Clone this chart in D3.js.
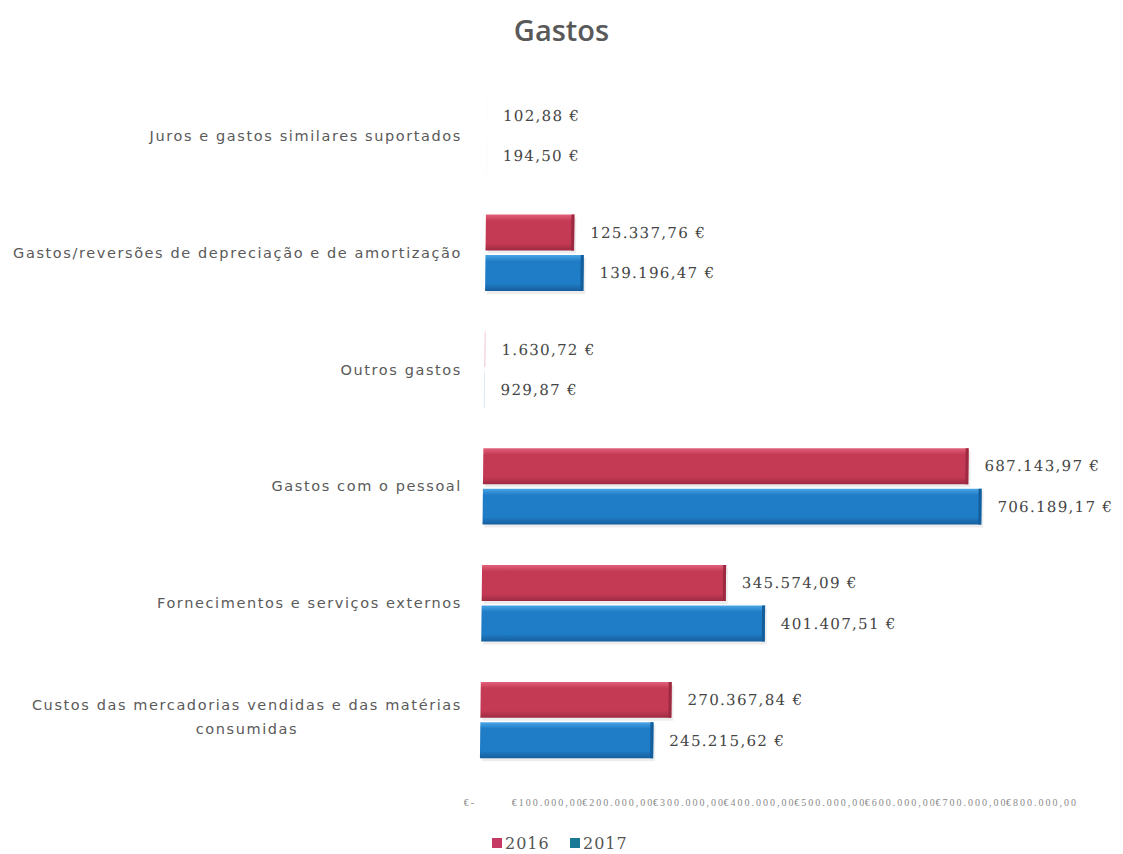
<!DOCTYPE html>
<html>
<head>
<meta charset="utf-8">
<script src="https://cdn.jsdelivr.net/npm/d3@7"></script>
<style>
  body { margin: 0; background: #fff; }
  svg { display: block; }
</style>
</head>
<body>
<svg width="1123" height="854"></svg>
<script>
const categories = [
  'Juros e gastos similares suportados',
  'Gastos/reversões de depreciação e de amortização',
  'Outros gastos',
  'Gastos com o pessoal',
  'Fornecimentos e serviços externos',
  'Custos das mercadorias vendidas e das matérias consumidas'
]
const series = ['2016', '2017']
const values2016 = [102.88, 125337.76, 1630.72, 687143.97, 345574.09, 270367.84]
const values2017 = [194.5, 139196.47, 929.87, 706189.17, 401407.51, 245215.62]
const ticks = [0, 100000, 200000, 300000, 400000, 500000, 600000, 700000, 800000]

const svg = d3.select('svg'),
  width = +svg.attr('width'),
  height = +svg.attr('height')

const colors = { '2016': ['#e2607a', '#c43a55', '#9e2a42'], '2017': ['#4aa6e6', '#1f7cc6', '#155e9c'] }

const defs = svg.append('defs')
series.forEach(s => {
  const g = defs.append('linearGradient').attr('id', 'g' + s)
    .attr('x1', 0).attr('y1', 0).attr('x2', 0).attr('y2', 1)
  g.append('stop').attr('offset', '0%').attr('stop-color', colors[s][0])
  g.append('stop').attr('offset', '18%').attr('stop-color', colors[s][1])
  g.append('stop').attr('offset', '80%').attr('stop-color', colors[s][1])
  g.append('stop').attr('offset', '100%').attr('stop-color', colors[s][2])
})

const data = categories.map((c, i) => ({
  cat: c,
  vals: [
    { s: '2016', v: values2016[i] },
    { s: '2017', v: values2017[i] }
  ]
}))

const x = d3.scaleLinear().domain([0, 800000]).range([483, 1048])
const y = d3.scaleBand().domain(categories).range([77.5, 778.5])
const ySub = d3.scaleBand().domain(series).range([0, y.bandwidth()])
  .paddingInner(0.11).paddingOuter(0.5)

const fmt = v => {
  const parts = v.toFixed(2).split('.')
  return parts[0].replace(/\B(?=(\d{3})+(?!\d))/g, '.') + ',' + parts[1] + ' €'
}

// title
svg.append('text')
  .attr('x', width / 2).attr('y', 41)
  .attr('text-anchor', 'middle')
  .attr('font-family', 'Open Sans, sans-serif')
  .attr('font-size', 29).attr('font-weight', 600)
  .attr('fill', '#595959')
  .text('Gastos')

// slight perspective like the 3d chart
const t = Math.tan(0.63 * Math.PI / 180)
const plot = svg.append('g')
  .attr('transform', `translate(${480 * t},0) skewX(-0.63)`)

const rows = plot.selectAll('g.row').data(data).enter().append('g')
  .attr('class', 'row')
  .attr('transform', d => `translate(0,${y(d.cat)})`)

const bar = rows.selectAll('g.bar').data(d => d.vals).enter().append('g')
  .attr('class', 'bar')

const big = bar.filter(d => x(d.v) - x(0) > 4)

big.append('rect')
  .attr('x', x(0) + 2).attr('y', d => ySub(d.s) + 3)
  .attr('width', d => x(d.v) - x(0))
  .attr('height', ySub.bandwidth())
  .attr('fill', '#000').attr('opacity', 0.07)

bar.append('rect')
  .attr('x', x(0)).attr('y', d => ySub(d.s))
  .attr('width', d => x(d.v) - x(0))
  .attr('height', ySub.bandwidth())
  .attr('fill', d => 'url(#g' + d.s + ')')
  .attr('opacity', d => x(d.v) - x(0) > 4 ? 1 : 0.25)

big.append('rect')
  .attr('x', d => x(d.v) - 3).attr('y', d => ySub(d.s))
  .attr('width', 3)
  .attr('height', ySub.bandwidth())
  .attr('fill', d => colors[d.s][2])

bar.append('text')
  .attr('x', d => x(d.v) + 16)
  .attr('y', d => ySub(d.s) + ySub.bandwidth() / 2)
  .attr('dy', '0.35em')
  .attr('font-family', 'DejaVu Serif, serif')
  .attr('font-size', 15)
  .attr('letter-spacing', 1.3)
  .attr('fill', '#454545')
  .text(d => fmt(d.v))

// category labels
const labels = svg.append('g')
labels.selectAll('text').data(categories).enter().append('text')
  .attr('font-family', 'DejaVu Sans, sans-serif')
  .attr('font-size', 14.5)
  .attr('letter-spacing', 1.6)
  .attr('fill', '#5a5a5a')
  .attr('text-anchor', 'end')
  .each(function(d) {
    const el = d3.select(this)
    const cy = y(d) + y.bandwidth() / 2
    if (d.length > 50) {
      const cut = d.lastIndexOf(' ')
      const first = el.append('tspan').attr('x', 462).attr('y', cy - 15).attr('dy', '0.35em')
        .text(d.slice(0, cut))
      const w = first.node().getComputedTextLength()
      el.append('tspan').attr('x', 462 - w / 2).attr('y', cy + 9).attr('dy', '0.35em')
        .attr('text-anchor', 'middle').text(d.slice(cut + 1))
    } else {
      el.attr('x', 462).attr('y', cy).attr('dy', '0.35em').text(d)
    }
  })

// x axis labels (overlapping as in the original)
svg.append('g').selectAll('text').data(ticks).enter().append('text')
  .attr('x', d => d === 0 ? x(d) - 7 : x(d) - 6)
  .attr('y', 806)
  .attr('text-anchor', d => d === 0 ? 'end' : 'middle')
  .attr('font-family', 'Liberation Serif, serif')
  .attr('font-size', 10)
  .attr('letter-spacing', 2)
  .attr('fill', '#8a8a8a')
  .text(d => d === 0 ? '€-' : '€' + fmt(d).replace(' €', ''))

// legend
const legend = svg.append('g').attr('transform', 'translate(492,843)')
const li = legend.selectAll('g').data(series).enter().append('g')
  .attr('transform', (d, i) => `translate(${i * 78},0)`)
li.append('rect').attr('x', 0).attr('y', -5).attr('width', 10).attr('height', 10)
  .attr('fill', d => d === '2016' ? '#c43a62' : '#1a7a95')
li.append('text').attr('x', 13).attr('y', 0).attr('dy', '0.35em')
  .attr('font-family', 'DejaVu Serif, serif')
  .attr('font-size', 16)
  .attr('letter-spacing', 1)
  .attr('fill', '#555')
  .text(d => d)
</script>
</body>
</html>
